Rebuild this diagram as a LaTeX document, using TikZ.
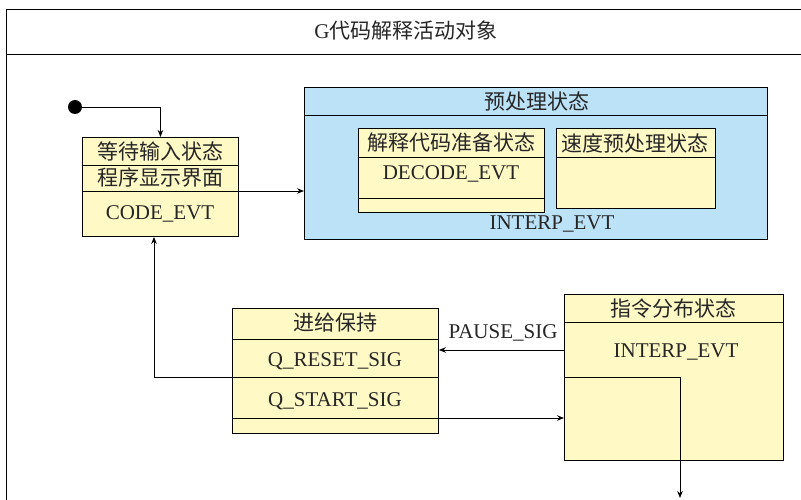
\documentclass[tikz,border=0pt]{standalone}
\usepackage{fontspec}
\setmainfont{Liberation Serif}
\newfontfamily\cjk{Noto Sans CJK SC}
\usetikzlibrary{arrows.meta}
\definecolor{statefill}{RGB}{255,249,198}
\definecolor{compfill}{RGB}{188,226,247}
\begin{document}
\begin{tikzpicture}[x=1pt,y=-1pt,
  line width=0.9pt,
  every node/.style={font=\fontsize{21}{24}\selectfont, inner sep=0pt},
  frame/.style={draw, anchor=north west},
  statebox/.style={draw, fill=statefill, anchor=north west},
  compbox/.style={draw, fill=compfill, anchor=north west},
  arr/.style={-{Stealth[length=7pt,width=5.5pt]}},
  lbl/.style={text=black!85}]
\useasboundingbox (0,0) rectangle (801,500);
\clip (0,0) rectangle (801,500);

% outer activity object frame
\node[frame, minimum width=820pt, minimum height=520pt] (obj) at (6,9) {};
\draw (6,54) -- (830,54);
\node[lbl] (objtitle) at (406,31) {G{\cjk 代码解释活动对象}};

% initial pseudo state
\node[circle, fill=black, minimum size=14pt] (init) at (75,107) {};

% waiting-for-input state
\node[statebox, minimum width=156pt, minimum height=99pt] (wait) at (82,137) {};
\draw (82,165) -- (238,165);
\draw (82,191) -- (238,191);
\node[lbl] (waitname) at (160,151) {\cjk 等待输入状态};
\node[lbl] (waitact) at (160,178) {\cjk 程序显示界面};
\node[lbl] (waitevt) at (160,214) {CODE\_EVT};

% preprocessing composite state
\node[compbox, minimum width=463pt, minimum height=152pt] (pre) at (304,87) {};
\draw (304,115) -- (767,115);
\node[lbl] (prename) at (537,101) {\cjk 预处理状态};
\node[lbl] (preevt) at (552,224) {INTERP\_EVT};

\node[statebox, minimum width=186pt, minimum height=84pt] (dec) at (358,128) {};
\draw (358,157) -- (544,157);
\draw (358,198) -- (544,198);
\node[lbl] (decname) at (451,143) {\cjk 解释代码准备状态};
\node[lbl] (decevt) at (451,174) {DECODE\_EVT};

\node[statebox, minimum width=159pt, minimum height=80pt] (spd) at (556,128) {};
\draw (556,157) -- (715,157);
\node[lbl] (spdname) at (635,143) {\cjk 速度预处理状态};

% feed hold state
\node[statebox, minimum width=206pt, minimum height=125pt] (hold) at (232,308) {};
\draw (232,339) -- (438,339);
\draw (232,377) -- (438,377);
\draw (232,418) -- (438,418);
\node[lbl] (holdname) at (335,323) {\cjk 进给保持};
\node[lbl] (holdreset) at (335,361) {Q\_RESET\_SIG};
\node[lbl] (holdstart) at (335,401) {Q\_START\_SIG};

% instruction dispatch state
\node[statebox, minimum width=219pt, minimum height=166pt] (disp) at (564,294) {};
\draw (564,322) -- (783,322);
\node[lbl] (dispname) at (673,309) {\cjk 指令分布状态};
\node[lbl] (dispevt) at (676,352) {INTERP\_EVT};

% anchor points for transitions
\coordinate (wout) at (238,191);
\coordinate (hreset) at (232,377);
\coordinate (ret) at (154,377);
\coordinate (pause) at (564,350);
\coordinate (hstart) at (438,418);
\coordinate (dcorner) at (680,377);
\coordinate (dexit) at (680,498);

% transitions
\draw[arr] (init.center) -| (wait.north);
\draw[arr] (wout) -- (wout -| pre.west);
\draw[arr] (hreset) -- (ret) -- (ret |- wait.south);
\draw[arr] (pause) -- (pause -| hold.east);
\node[lbl] (pauselbl) at (503,333) {PAUSE\_SIG};
\draw[arr] (hstart) -- (hstart -| disp.west);
\draw[arr] (disp.west |- dcorner) -- (dcorner) -- (dexit);
\end{tikzpicture}
\end{document}
